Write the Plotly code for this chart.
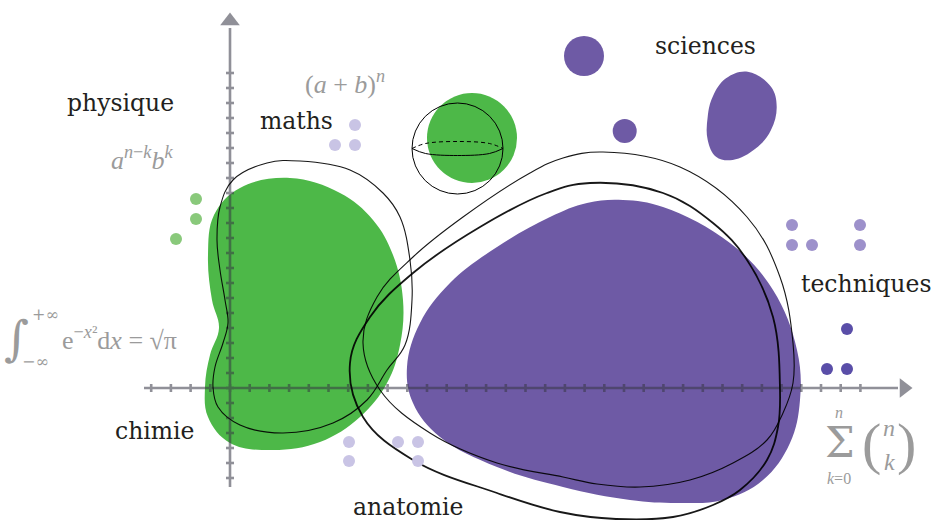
import plotly.graph_objects as go

# ---------------- data (coordinates in the drawing's own x/y system, origin at axes crossing) ----
# main green blob ("chimie / physique")
green_blob_x = [60, 110, 143, 163, 173, 170, 157, 130, 90, 43, 0, -22, -25, -20, -11, -18, -22, -16, 10]
green_blob_y = [210, 195, 168, 133, 88, 43, 5, -29, -54, -62, -55, -29, 1, 33, 60, 88, 133, 173, 200]

# big purple blob
purple_blob_x = [393, 433, 500, 543, 567, 570, 560, 533, 493, 450, 400, 333, 267, 210, 183, 177, 190, 220, 267, 320, 357]
purple_blob_y = [188, 181, 145, 98, 38, -12, -55, -92, -112, -115, -112, -99, -79, -49, -15, 21, 65, 105, 141, 171, 185]

# small purple egg (top right)
egg_x = [517.7, 541, 546.7, 541, 526, 502.7, 486, 477.7, 477.7, 482.7, 496]
egg_y = [316.3, 301.3, 281.3, 258, 239.7, 228, 231.3, 248, 271.3, 291.3, 309.7]

# outline around the green blob ("maths")
maths_x = [70, 120, 153, 170, 180, 182, 175, 157, 137, 103, 53, 10, -12, -17, -15, -7, -2, -5, -10, -13, -10, 3, 37]
maths_y = [227, 218, 195, 171, 128, 88, 43, 18, -12, -35, -45, -37, -19, 1, 21, 45, 65, 88, 118, 148, 181, 208, 225]

# thin outline ("techniques")
tech_x = [373, 450, 517, 550, 563, 563, 553, 537, 503, 460, 410, 367, 333, 267, 200, 150, 133, 147, 183, 233, 300, 333]
tech_y = [236, 221, 171, 111, 45, 5, -25, -52, -75, -92, -99, -96, -89, -75, -45, -2, 45, 91, 131, 171, 215, 230]

# thick outline ("anatomie")
anat_x = [360, 433, 483, 517, 543, 550, 548, 537, 510, 483, 443, 386, 330, 267, 183, 133, 120, 140, 183, 250, 317]
anat_y = [205, 195, 165, 128, 71, -2, -39, -72, -102, -117, -129, -131, -124, -105, -72, -29, 25, 71, 115, 161, 195]

# circles: (centre x, centre y, radius)
green_disc = (242, 250, 45)
sphere = (227.5, 239.5, 45.5)
purple_discs = [(354, 332, 20), (394.7, 257, 12)]

# sphere equator (relative to sphere centre)
equator_dx = [-45.5, -32, 0, 32, 45.5]
equator_dy = [0, 5, 7, 5, 0]

# dots
dots_green_x = [-34, -34, -54]
dots_green_y = [189, 169, 149]
dots_lav_x = [125, 105, 125, 119, 119, 168, 188, 188]
dots_lav_y = [263, 243, 243, -54, -73, -54, -54, -73]
dots_mid_x = [562, 562, 582, 630, 630]
dots_mid_y = [163, 143, 143, 163, 143]
dots_dark_x = [617, 597, 617]
dots_dark_y = [59, 19, 19]

# axes
x_tick_step, x_tick_from, x_tick_to = 19.7, -4, 32
y_tick_step, y_tick_from, y_tick_to = 15, -6, 21
x_axis_span = (-86, 668)
y_axis_span = (-99, 360)
tick_half = 4

# labels: (text, x, y)
labels = [
    ("physique", -110, 285),
    ("maths", 66, 267),
    ("sciences", 475, 342),
    ("techniques", 636, 104),
    ("chimie", -75, -43),
    ("anatomie", 178, -119),
]
math_labels = [
    ("(<i>a</i> + <i>b</i>)<sup><i>n</i></sup>", 115, 306, 26),
    ("<i>a</i><sup><i>n</i>−<i>k</i></sup><i>b</i><sup><i>k</i></sup>", -88, 230, 26),
    ("e<sup>−<i>x</i>²</sup>d<i>x</i> = √π", -111, 50, 26),
]

GREEN = "#4db848"
PURPLE = "#6e5aa5"
AXIS = "rgb(55,55,68)"
MATH_GREY = "#9b9b9b"
TEXT = "#231f20"


def closed(xs, ys):
    return list(xs) + [xs[0]], list(ys) + [ys[0]]


fig = go.Figure()

# filled blobs
for xs, ys, col in [(green_blob_x, green_blob_y, GREEN),
                    (purple_blob_x, purple_blob_y, PURPLE),
                    (egg_x, egg_y, PURPLE)]:
    cx, cy = closed(xs, ys)
    fig.add_trace(go.Scatter(x=cx, y=cy, mode="lines", fill="toself", fillcolor=col,
                             line=dict(width=0, shape="spline", smoothing=1.1, color=col),
                             hoverinfo="skip"))

# axes + ticks (one trace, group opacity)
ax_x, ax_y = [], []
ax_x += [x_axis_span[0], x_axis_span[1], None]
ax_y += [0, 0, None]
ax_x += [0, 0, None]
ax_y += [y_axis_span[0], y_axis_span[1], None]
for k in range(x_tick_from, x_tick_to + 1):
    ax_x += [k * x_tick_step, k * x_tick_step, None]
    ax_y += [-tick_half, tick_half, None]
for k in range(y_tick_from, y_tick_to + 1):
    ax_x += [-tick_half, tick_half, None]
    ax_y += [k * y_tick_step, k * y_tick_step, None]
fig.add_trace(go.Scatter(x=ax_x, y=ax_y, mode="lines", line=dict(color=AXIS, width=2.6),
                         opacity=0.55, hoverinfo="skip", connectgaps=False))
fig.add_trace(go.Scatter(x=[x_axis_span[1] + 6], y=[0], mode="markers",
                         marker=dict(symbol="triangle-right", size=17, color=AXIS, line=dict(width=0)),
                         opacity=0.55, hoverinfo="skip"))
fig.add_trace(go.Scatter(x=[0], y=[y_axis_span[1] + 7], mode="markers",
                         marker=dict(symbol="triangle-up", size=17, color=AXIS, line=dict(width=0)),
                         opacity=0.55, hoverinfo="skip"))

# outlines
for xs, ys, w in [(maths_x, maths_y, 1.1), (tech_x, tech_y, 1.1), (anat_x, anat_y, 1.8)]:
    cx, cy = closed(xs, ys)
    fig.add_trace(go.Scatter(x=cx, y=cy, mode="lines",
                             line=dict(color="black", width=w, shape="spline", smoothing=1.1),
                             opacity=0.9, hoverinfo="skip"))

# sphere equator: back (dashed) and front (solid)
sx, sy, sr = sphere
fig.add_trace(go.Scatter(x=[sx + d for d in equator_dx], y=[sy + d for d in equator_dy], mode="lines",
                         line=dict(color="black", width=1, dash="4px,3px", shape="spline"),
                         hoverinfo="skip"))
fig.add_trace(go.Scatter(x=[sx + d for d in equator_dx], y=[sy - d for d in equator_dy], mode="lines",
                         line=dict(color="black", width=1, shape="spline"), hoverinfo="skip"))

# dots
for xs, ys, col in [(dots_green_x, dots_green_y, "#89c97b"),
                    (dots_lav_x, dots_lav_y, "#c9c4e5"),
                    (dots_mid_x, dots_mid_y, "#9d91cb"),
                    (dots_dark_x, dots_dark_y, "#5a4ea8")]:
    fig.add_trace(go.Scatter(x=xs, y=ys, mode="markers",
                             marker=dict(size=12, color=col, line=dict(width=0)), hoverinfo="skip"))

# circles as shapes
shapes = []
gx, gy, gr = green_disc
shapes.append(dict(type="circle", xref="x", yref="y", x0=gx - gr, x1=gx + gr, y0=gy - gr, y1=gy + gr,
                   fillcolor=GREEN, line=dict(width=0), layer="below"))
for px_, py_, pr in purple_discs:
    shapes.append(dict(type="circle", xref="x", yref="y", x0=px_ - pr, x1=px_ + pr, y0=py_ - pr, y1=py_ + pr,
                       fillcolor=PURPLE, line=dict(width=0), layer="below"))
shapes.append(dict(type="circle", xref="x", yref="y", x0=sx - sr, x1=sx + sr, y0=sy - sr, y1=sy + sr,
                   line=dict(color="black", width=1), layer="above"))

annotations = []
for t, x, y in labels:
    annotations.append(dict(text=t, x=x, y=y, xref="x", yref="y", showarrow=False,
                            font=dict(family="DejaVu Serif", size=23.5, color=TEXT)))
for t, x, y, s in math_labels:
    annotations.append(dict(text=t, x=x, y=y, xref="x", yref="y", showarrow=False,
                            font=dict(family="Liberation Serif", size=s, color=MATH_GREY)))

# integral composition
integral_parts = [("∫", -214, 50, 48), ("+∞", -185, 74, 16), ("−∞", -195, 27, 16)]
for t, x, y, s in integral_parts:
    annotations.append(dict(text=t, x=x, y=y, xref="x", yref="y", showarrow=False,
                            font=dict(family="DejaVu Serif", size=s, color=MATH_GREY)))
# binomial sum composition
sum_parts = [("Σ", 610, -54, 42, "DejaVu Serif"), ("<i>n</i>", 609, -24, 16, "Liberation Serif"),
             ("<i>k</i>=0", 609, -90, 16, "Liberation Serif"),
             ("(", 641, -55, 58, "Liberation Serif"), (")", 676, -55, 58, "Liberation Serif"),
             ("<i>n</i>", 659, -40, 24, "Liberation Serif"), ("<i>k</i>", 659, -74, 24, "Liberation Serif")]
for t, x, y, s, f in sum_parts:
    annotations.append(dict(text=t, x=x, y=y, xref="x", yref="y", showarrow=False,
                            font=dict(family=f, size=s, color=MATH_GREY)))

fig.update_layout(
    width=933, height=520, margin=dict(l=0, r=0, t=0, b=0),
    paper_bgcolor="white", plot_bgcolor="white", showlegend=False,
    xaxis=dict(range=[-230, 703], visible=False, fixedrange=True),
    yaxis=dict(range=[-132, 388], visible=False, fixedrange=True),
    shapes=shapes, annotations=annotations,
)

fig.write_html("out.html", config={"displayModeBar": False},
               post_script="document.body.style.margin='0';document.body.style.overflow='hidden';")
